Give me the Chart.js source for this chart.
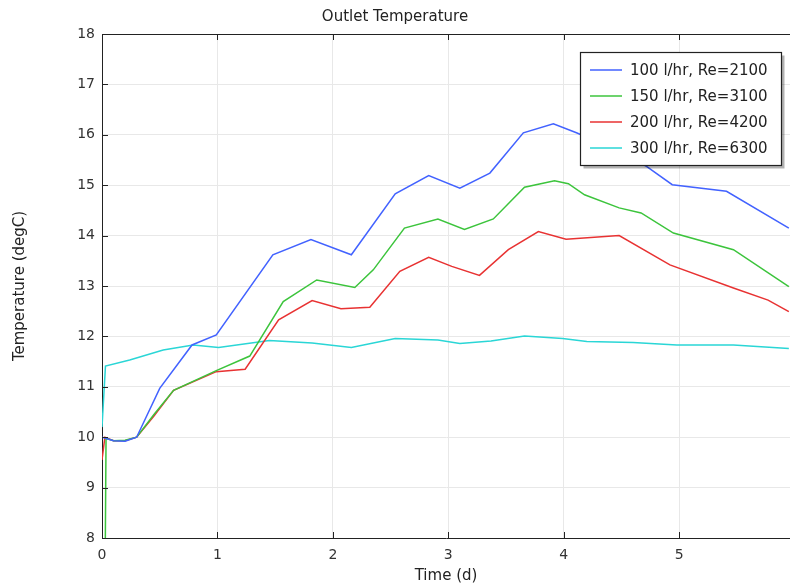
<!DOCTYPE html>
<html>
<head>
<meta charset="utf-8">
<script src="https://cdn.jsdelivr.net/npm/chart.js@4.4.0/dist/chart.umd.min.js"></script>
<style>
  html, body { margin: 0; padding: 0; background: #fff; }
  #wrap { width: 790px; height: 585px; }
</style>
</head>
<body>
<div id="wrap"><canvas id="myChart" width="790" height="585"></canvas></div>
<script>
// series labels
const labels = ['100 l/hr, Re=2100', '150 l/hr, Re=3100', '200 l/hr, Re=4200', '300 l/hr, Re=6300'];

// 100 l/hr
const t100 = [0, 0.1, 0.2, 0.3, 0.5, 0.78, 0.99, 1.48, 1.81, 2.16, 2.54, 2.83, 3.1, 3.36, 3.65, 3.91, 4.11, 4.45, 4.72, 4.94, 5.41, 5.95];
const T100 = [10.0, 9.93, 9.92, 10.0, 10.97, 11.83, 12.03, 13.62, 13.92, 13.62, 14.83, 15.19, 14.94, 15.24, 16.04, 16.22, 16.04, 15.7, 15.37, 15.01, 14.88, 14.15];

// 150 l/hr
const t150 = [0.026, 0.035, 0.1, 0.2, 0.3, 0.45, 0.62, 0.99, 1.28, 1.57, 1.86, 2.19, 2.35, 2.62, 2.91, 3.14, 3.39, 3.66, 3.92, 4.04, 4.18, 4.48, 4.67, 4.95, 5.47, 5.95];
const T150 = [7.0, 9.98, 9.93, 9.94, 10.0, 10.45, 10.93, 11.32, 11.61, 12.69, 13.12, 12.97, 13.32, 14.15, 14.33, 14.12, 14.33, 14.96, 15.09, 15.03, 14.81, 14.55, 14.45, 14.05, 13.72, 12.99];

// 200 l/hr
const t200 = [0, 0.025, 0.1, 0.2, 0.3, 0.45, 0.62, 0.99, 1.24, 1.53, 1.82, 2.07, 2.32, 2.58, 2.83, 3.03, 3.27, 3.52, 3.78, 4.02, 4.48, 4.92, 5.47, 5.77, 5.95];
const T200 = [9.55, 10.0, 9.93, 9.93, 10.0, 10.42, 10.93, 11.3, 11.35, 12.33, 12.71, 12.55, 12.58, 13.29, 13.57, 13.39, 13.21, 13.72, 14.08, 13.93, 14.0, 13.42, 12.96, 12.72, 12.49];

// 300 l/hr
const t300 = [0, 0.03, 0.24, 0.53, 0.79, 1.01, 1.45, 1.82, 2.16, 2.54, 2.91, 3.1, 3.37, 3.66, 3.99, 4.2, 4.6, 4.98, 5.47, 5.95];
const T300 = [10.2, 11.41, 11.53, 11.73, 11.83, 11.78, 11.92, 11.87, 11.78, 11.96, 11.93, 11.86, 11.91, 12.01, 11.96, 11.9, 11.88, 11.83, 11.83, 11.76];

const colors = ['#4262ff', '#3cc43c', '#e83232', '#2ad6d6'];

function pts(t, T) {
    return t.map((x, i) => ({x: x, y: T[i]}));
}

const series = [pts(t100, T100), pts(t150, T150), pts(t200, T200), pts(t300, T300)];

const data = {
    datasets: series.map((d, i) => ({
        label: labels[i],
        data: d,
        borderColor: colors[i],
        backgroundColor: colors[i],
        borderWidth: 1.5,
        pointRadius: 0,
        tension: 0,
        fill: false
    }))
};

const FONT = "'DejaVu Sans', sans-serif";

// top border, inward tick marks and the boxed legend
const framePlugin = {
    id: 'framePlugin',
    afterDraw(chart) {
        const ctx = chart.ctx;
        const a = chart.chartArea;
        const xs = chart.scales.x, ys = chart.scales.y;
        ctx.save();
        ctx.strokeStyle = '#222';
        ctx.lineWidth = 1;
        ctx.beginPath();
        ctx.moveTo(a.left, a.top + 0.5);
        ctx.lineTo(a.right, a.top + 0.5);
        xs.ticks.forEach(tk => {
            const px = Math.round(xs.getPixelForValue(tk.value)) + 0.5;
            ctx.moveTo(px, a.bottom);
            ctx.lineTo(px, a.bottom - 6);
            ctx.moveTo(px, a.top);
            ctx.lineTo(px, a.top + 6);
        });
        ys.ticks.forEach(tk => {
            const py = Math.round(ys.getPixelForValue(tk.value)) + 0.5;
            ctx.moveTo(a.left, py);
            ctx.lineTo(a.left + 6, py);
        });
        ctx.stroke();

        // legend
        const bx = 580.5, by = 52.5, bw = 201, bh = 113;
        ctx.fillStyle = 'rgba(0,0,0,0.3)';
        ctx.fillRect(bx + 3, by + 3, bw, bh);
        ctx.fillStyle = '#fff';
        ctx.fillRect(bx, by, bw, bh);
        ctx.strokeStyle = '#222';
        ctx.lineWidth = 1.2;
        ctx.strokeRect(bx, by, bw, bh);
        ctx.font = '15px ' + FONT;
        ctx.textBaseline = 'middle';
        ctx.textAlign = 'left';
        chart.data.datasets.forEach((ds, i) => {
            const y = 70 + i * 26;
            ctx.strokeStyle = ds.borderColor;
            ctx.lineWidth = 1.5;
            ctx.beginPath();
            ctx.moveTo(590, y);
            ctx.lineTo(622, y);
            ctx.stroke();
            ctx.fillStyle = '#222';
            ctx.fillText(ds.label, 630, y + 1);
        });
        ctx.restore();
    }
};

const config = {
    type: 'line',
    data: data,
    options: {
        responsive: false,
        animation: false,
        layout: { padding: { left: 0, right: 0, top: 0, bottom: 0 } },
        scales: {
            x: {
                type: 'linear',
                min: 0,
                max: 5.96,
                afterFit: s => { s.height = 47; },
                ticks: {
                    stepSize: 1,
                    includeBounds: false,
                    padding: 9,
                    color: '#333',
                    font: { family: FONT, size: 14 },
                    maxRotation: 0
                },
                grid: { color: '#e8e8e8', lineWidth: 1, drawTicks: false },
                border: { color: '#222', width: 1 },
                title: {
                    display: true,
                    text: 'Time (d)',
                    color: '#222',
                    font: { family: FONT, size: 15 },
                    padding: { top: 0, bottom: 0 }
                }
            },
            y: {
                min: 8,
                max: 18,
                afterFit: s => { s.width = 102; },
                ticks: {
                    stepSize: 1,
                    padding: 7,
                    color: '#333',
                    font: { family: FONT, size: 14 }
                },
                grid: { color: '#e8e8e8', lineWidth: 1, drawTicks: false },
                border: { color: '#222', width: 1 },
                title: {
                    display: true,
                    text: 'Temperature (degC)',
                    color: '#222',
                    font: { family: FONT, size: 15 },
                    padding: { top: 11, bottom: 0 }
                }
            }
        },
        plugins: {
            legend: { display: false },
            tooltip: { enabled: false },
            title: {
                display: true,
                text: 'Outlet Temperature',
                color: '#222',
                font: { family: FONT, size: 15, weight: 'normal' },
                padding: { top: 8, bottom: 8 }
            }
        }
    },
    plugins: [framePlugin]
};

new Chart(document.getElementById('myChart'), config);
</script>
</body>
</html>
